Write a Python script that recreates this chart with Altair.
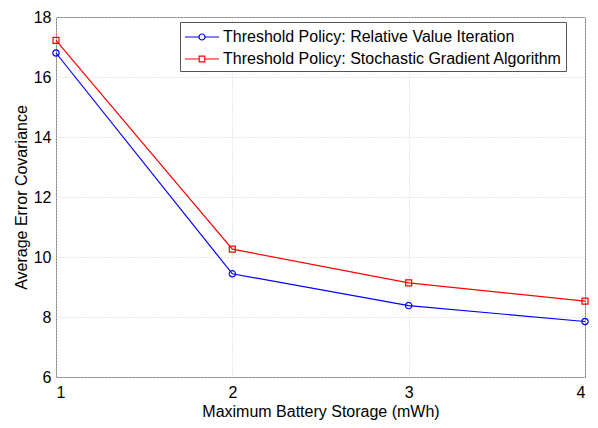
import altair as alt
import pandas as pd

storage = [1, 2, 3, 4]
rvi = [16.8, 9.44, 8.38, 7.85]
sga = [17.22, 10.26, 9.14, 8.53]
series = ["Threshold Policy: Relative Value Iteration",
          "Threshold Policy: Stochastic Gradient Algorithm"]
colors = ["#0000ff", "#ff0000"]
y_ticks = [6, 8, 10, 12, 14, 16, 18]

df = pd.DataFrame({
    "x": storage * 2,
    "y": rvi + sga,
    "s": [series[0]] * len(storage) + [series[1]] * len(storage),
})

FONT = "Liberation Sans"
xs = alt.Scale(domain=[1, 4], nice=False, zero=False)
ys = alt.Scale(domain=[6, 18], nice=False, zero=False)
cs = alt.Scale(domain=series, range=colors)

# legend glyphs: a short line with the marker in the middle
circle_path = "M-1.7,0L-0.3,0M0.3,0L1.7,0M0.3,0A0.3,0.3,0,1,1,-0.3,0A0.3,0.3,0,1,1,0.3,0"
square_path = "M-1.7,0L-0.28,0M0.28,0L1.7,0M-0.28,-0.28L0.28,-0.28L0.28,0.28L-0.28,0.28Z"

leg_def = alt.Legend(
    title=None, orient="none", legendX=124, legendY=5,
    direction="vertical",
    strokeColor="#555555", fillColor="white", padding=4,
    rowPadding=3, symbolSize=400, symbolStrokeWidth=1.2,
    symbolOffset=7, labelOffset=10,
    labelFont=FONT, labelFontSize=16, labelColor="black",
    labelLimit=500, symbolOpacity=1,
)

base = alt.Chart(df).encode(
    x=alt.X("x:Q", scale=xs,
            axis=alt.Axis(values=storage, format="d",
                          title="Maximum Battery Storage (mWh)")),
    y=alt.Y("y:Q", scale=ys,
            axis=alt.Axis(values=y_ticks, format="d",
                          title="Average Error Covariance")),
    color=alt.Color("s:N", scale=cs, legend=leg_def),
)

lines = base.mark_line(strokeWidth=1.2)
pts_c = base.transform_filter(alt.datum.s == series[0]).mark_point(
    shape="circle", filled=False, size=40, strokeWidth=1.2, opacity=1)
pts_s = base.transform_filter(alt.datum.s == series[1]).mark_point(
    shape="square", filled=False, size=36, strokeWidth=1.2, opacity=1)

leg = base.mark_point(
    filled=False, size=400, strokeWidth=1.2, opacity=0).encode(
    shape=alt.Shape("s:N", scale=alt.Scale(domain=series,
                                           range=[circle_path, square_path]),
                    legend=leg_def),
)

chart = alt.layer(lines, pts_c, pts_s, leg).properties(
    width=529, height=360,
    autosize=alt.AutoSizeParams(type="none"),
    padding={"left": 48, "top": 9, "right": 5, "bottom": 45},
).configure_view(
    stroke="#7f7f7f", strokeWidth=1,
).configure_axis(
    labelFont=FONT, labelFontSize=16, labelColor="black",
    titleFont=FONT, titleFontSize=16, titleColor="black", titleFontWeight="normal",
    domain=False, ticks=False,
    grid=True, gridColor="#d0d0d0", gridDash=[1, 2], gridWidth=1,
).configure_axisY(
    labelPadding=5, titlePadding=4,
).configure_axisX(
    labelPadding=7, titlePadding=3,
)

chart.save("out.html", embed_options={"renderer": "svg", "actions": False})
